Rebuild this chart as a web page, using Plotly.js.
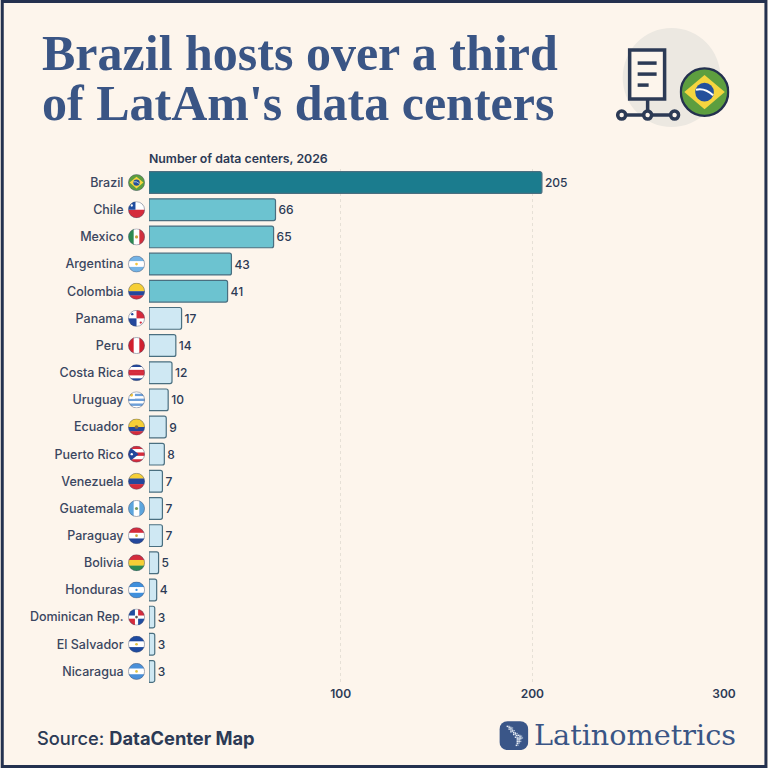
<!DOCTYPE html>
<html>
<head>
<meta charset="utf-8">
<script src="https://cdn.plot.ly/plotly-3.0.1.min.js"></script>
<style>html,body{margin:0;padding:0;background:#fdf5ec}#chart{width:768px;height:768px}</style>
</head>
<body>
<div id="chart"></div>
<script>
// Data centers per country, 2026
var countries = ['Brazil','Chile','Mexico','Argentina','Colombia','Panama','Peru','Costa Rica','Uruguay','Ecuador','Puerto Rico','Venezuela','Guatemala','Paraguay','Bolivia','Honduras','Dominican Rep.','El Salvador','Nicaragua'];
var centers = [205,66,65,43,41,17,14,12,10,9,8,7,7,7,5,4,3,3,3];
var barColors = ['#1b7c8e','#6cc3d0','#6cc3d0','#6cc3d0','#6cc3d0','#cfe8f3','#cfe8f3','#cfe8f3','#cfe8f3','#cfe8f3','#cfe8f3','#cfe8f3','#cfe8f3','#cfe8f3','#cfe8f3','#cfe8f3','#cfe8f3','#cfe8f3','#cfe8f3'];
var xTicks = [100,200,300];

var ink = '#2c3a55', navy = '#3a5585', bg = '#fdf5ec';

// plot area in page pixels
var W = 768, H = 768, L = 148.5, R = 724.5, T = 168.9, B = 684.9;
function px(x){ return (x - L) / (R - L); }
function py(y){ return (B - y) / (B - T); }

// flags, drawn on a 32x32 box and clipped to a circle
function hs(a){ var h = 32 / a.length; return a.map(function(c,i){ return '<rect x="0" y="'+(i*h)+'" width="32" height="'+(h+0.5)+'" fill="'+c+'"/>'; }).join(''); }
function vs(a){ var w = 32 / a.length; return a.map(function(c,i){ return '<rect y="0" x="'+(i*w)+'" height="32" width="'+(w+0.5)+'" fill="'+c+'"/>'; }).join(''); }
function dot(c,r){ return '<circle cx="16" cy="16" r="'+(r||2.5)+'" fill="'+c+'"/>'; }
var brazilFlag = hs(['#5d9e3f'])+'<path d="M16 5L29 16L16 27L3 16Z" fill="#f5d53f"/><circle cx="16" cy="16" r="6" fill="#23509c"/><path d="M10.5 14.5Q16 13 21.5 18" stroke="#fff" stroke-width="1.2" fill="none"/>';
var flagArt = {
  'Brazil': brazilFlag,
  'Chile': hs(['#fff','#d52b3c'])+'<rect width="14" height="16" fill="#1f4da1"/><circle cx="7" cy="8" r="2.2" fill="#fff"/>',
  'Mexico': vs(['#2c8a52','#fff','#d22f3c'])+dot('#c9a13c',3),
  'Argentina': hs(['#74b3e5','#fff','#74b3e5'])+dot('#f2c53d'),
  'Colombia': hs(['#f6cf36','#f6cf36','#23479c','#d52b3c']),
  'Panama': '<rect width="32" height="32" fill="#fff"/><rect x="16" width="16" height="16" fill="#d52b3c"/><rect y="16" width="16" height="16" fill="#23479c"/><circle cx="8" cy="8" r="2.2" fill="#23479c"/><circle cx="24" cy="24" r="2.2" fill="#d52b3c"/>',
  'Peru': vs(['#d1202f','#fff','#d1202f']),
  'Costa Rica': hs(['#23479c','#fff','#d52b3c','#d52b3c','#fff','#23479c']),
  'Uruguay': hs(['#fff','#6d9fd8','#fff','#6d9fd8','#fff','#6d9fd8','#fff'])+'<rect width="13" height="14" fill="#fff"/><circle cx="6.5" cy="7" r="3" fill="#f2c53d"/>',
  'Ecuador': hs(['#f6cf36','#f6cf36','#23479c','#d52b3c'])+dot('#8a6d3b',3.5),
  'Puerto Rico': hs(['#d52b3c','#fff','#d52b3c','#fff','#d52b3c'])+'<path d="M0 0L20 16L0 32Z" fill="#23479c"/><circle cx="7" cy="16" r="2.2" fill="#fff"/>',
  'Venezuela': hs(['#f6cf36','#23479c','#d52b3c']),
  'Guatemala': vs(['#5da5dd','#fff','#5da5dd'])+dot('#7a9a5c',3),
  'Paraguay': hs(['#d52b3c','#fff','#23479c'])+dot('#caa53c',2.5),
  'Bolivia': hs(['#d52b3c','#f6cf36','#2c8a52']),
  'Honduras': hs(['#3f8fdc','#fff','#3f8fdc'])+dot('#3f8fdc',2.2),
  'Dominican Rep.': '<rect width="32" height="32" fill="#fff"/><rect x="1" y="1" width="12" height="12" fill="#1f4da1"/><rect x="19" y="1" width="12" height="12" fill="#d52b3c"/><rect x="1" y="19" width="12" height="12" fill="#d52b3c"/><rect x="19" y="19" width="12" height="12" fill="#1f4da1"/>'+dot('#555',2.5),
  'El Salvador': hs(['#1e4aa0','#fff','#1e4aa0'])+dot('#e2c243'),
  'Nicaragua': hs(['#4a90d9','#fff','#4a90d9'])+dot('#e2c243')
};
function svgUri(inner, size, ring, ringWidth){
  return 'data:image/svg+xml;utf8,' + encodeURIComponent(
    '<svg xmlns="http://www.w3.org/2000/svg" width="'+size+'" height="'+size+'" viewBox="0 0 32 32"><defs><clipPath id="c"><circle cx="16" cy="16" r="15.4"/></clipPath></defs><g clip-path="url(#c)">'+inner+'</g><circle cx="16" cy="16" r="15.2" fill="none" stroke="'+ring+'" stroke-width="'+ringWidth+'"/></svg>');
}

var images = countries.map(function(c){
  return {source: svgUri(flagArt[c], 64, '#46536e', 0.9), xref:'paper', yref:'y', x:px(136), y:c,
    sizex:17/(R-L), sizey:17/27.17, xanchor:'center', yanchor:'middle', sizing:'contain', layer:'above'};
});
// big flag in header
images.push({source: svgUri(brazilFlag, 120, '#24314f', 1.5), xref:'paper', yref:'paper', x:px(705), y:py(92),
  sizex:50/(R-L), sizey:50/(B-T), xanchor:'center', yanchor:'middle', sizing:'contain', layer:'above'});
// logo
var logoDots = '<rect width="32" height="32" rx="9" fill="#3a5688"/>';
var logoPts = [[8,5],[10,6],[12,7],[10,8],[12,9],[14,10],[12,11],[15,12],[17,13],[15,14],[18,15],[20,15],[22,16],[17,17],[19,18],[21,18],[23,18],[19,20],[21,20],[19,22],[21,22],[19,24],[18,26]];
logoPts.forEach(function(p){ logoDots += '<rect x="'+p[0]+'" y="'+p[1]+'" width="1.6" height="1.6" fill="#e8eef5"/><rect x="'+(p[0]+2)+'" y="'+p[1]+'" width="1.2" height="1.2" fill="#c5d2e2"/>'; });
images.push({source:'data:image/svg+xml;utf8,'+encodeURIComponent('<svg xmlns="http://www.w3.org/2000/svg" width="90" height="90" viewBox="0 0 32 32">'+logoDots+'</svg>'),
  xref:'paper', yref:'paper', x:px(514), y:py(735.5), sizex:29/(R-L), sizey:29/(B-T), xanchor:'center', yanchor:'middle', sizing:'contain', layer:'above'});

function pxShape(type, x0, y0, x1, y1, extra){
  var s = {type:type, xref:'paper', yref:'paper', x0:px(x0), y0:py(y0), x1:px(x1), y1:py(y1), layer:'above', line:{width:0}};
  for (var k in extra) s[k] = extra[k];
  return s;
}
var iconLine = {color:ink, width:3.5};
var shapes = [
  pxShape('rect', 1.5, 1.5, 766.5, 766.5, {line:{color:'#24314f', width:3}}),
  pxShape('circle', 623, 28, 721, 127, {fillcolor:'#ece8e1', layer:'below'}),
  pxShape('rect', 630, 50, 665, 99, {fillcolor:'#fdf5ec', line:iconLine}),
  pxShape('line', 638, 63, 657, 63, {line:iconLine}),
  pxShape('line', 638, 74, 657, 74, {line:iconLine}),
  pxShape('line', 638, 85, 649, 85, {line:iconLine}),
  pxShape('line', 648, 99, 648, 115, {line:iconLine}),
  pxShape('line', 622, 115, 675, 115, {line:iconLine}),
  pxShape('circle', 618, 111, 626, 119, {fillcolor:'#fdf5ec', line:iconLine}),
  pxShape('circle', 644, 111, 652, 119, {fillcolor:'#fdf5ec', line:iconLine}),
  pxShape('circle', 671, 111, 679, 119, {fillcolor:'#fdf5ec', line:iconLine})
];

function note(text, x, y, anchor, font){
  return {text:text, xref:'paper', yref:'paper', x:px(x), y:py(y), xanchor:anchor, yanchor:'middle', showarrow:false, font:font, borderpad:0};
}
var sans = 'Inter, "Noto Sans", sans-serif', serif = '"Liberation Serif", serif';
var annotations = [
  note('Brazil hosts over a third', 40, 53, 'left', {family:serif, size:50, color:navy, weight:700}),
  note("of LatAm's data centers", 40, 103, 'left', {family:serif, size:50, color:navy, weight:700}),
  note('Number of data centers, 2026', 147, 158, 'left', {family:sans, size:12.3, color:ink, weight:600}),
  note('Source: <b>DataCenter Map</b>', 35, 738, 'left', {family:sans, size:18.3, color:ink, weight:500}),
  note('Latinometrics', 533, 735, 'left', {family:'"DejaVu Serif", serif', size:28.7, color:navy})
];

var trace = {
  type:'bar', orientation:'h', x:centers, y:countries,
  text:centers.map(String), textposition:'outside', cliponaxis:false,
  textfont:{family:sans, size:12, color:ink, weight:500},
  marker:{color:barColors, line:{color:'#4a6f80', width:1.2}, cornerradius:2},
  width:0.8, hoverinfo:'x+y'
};

var layout = {
  width:W, height:H, paper_bgcolor:bg, plot_bgcolor:bg, showlegend:false,
  margin:{l:L, r:W-R, t:T, b:H-B, pad:0},
  font:{family:sans, color:ink},
  xaxis:{range:[0,300], tickvals:xTicks, ticktext:xTicks.map(String), showgrid:true, griddash:'dot', gridcolor:'#e6e0d6', gridwidth:1,
    zeroline:false, showline:false, ticks:'', tickfont:{family:sans, size:12, color:ink, weight:600}, side:'bottom', automargin:false},
  yaxis:{type:'category', categoryorder:'array', categoryarray:countries, range:[18.5,-0.5], showgrid:false, zeroline:false, showline:false,
    ticks:'outside', ticklen:22, tickcolor:'rgba(0,0,0,0)', tickfont:{family:sans, size:12.5, color:'#3a4660', weight:500}, automargin:false},
  shapes:shapes, annotations:annotations, images:images
};

Plotly.newPlot('chart', [trace], layout, {displayModeBar:false, staticPlot:true});
</script>
</body>
</html>
